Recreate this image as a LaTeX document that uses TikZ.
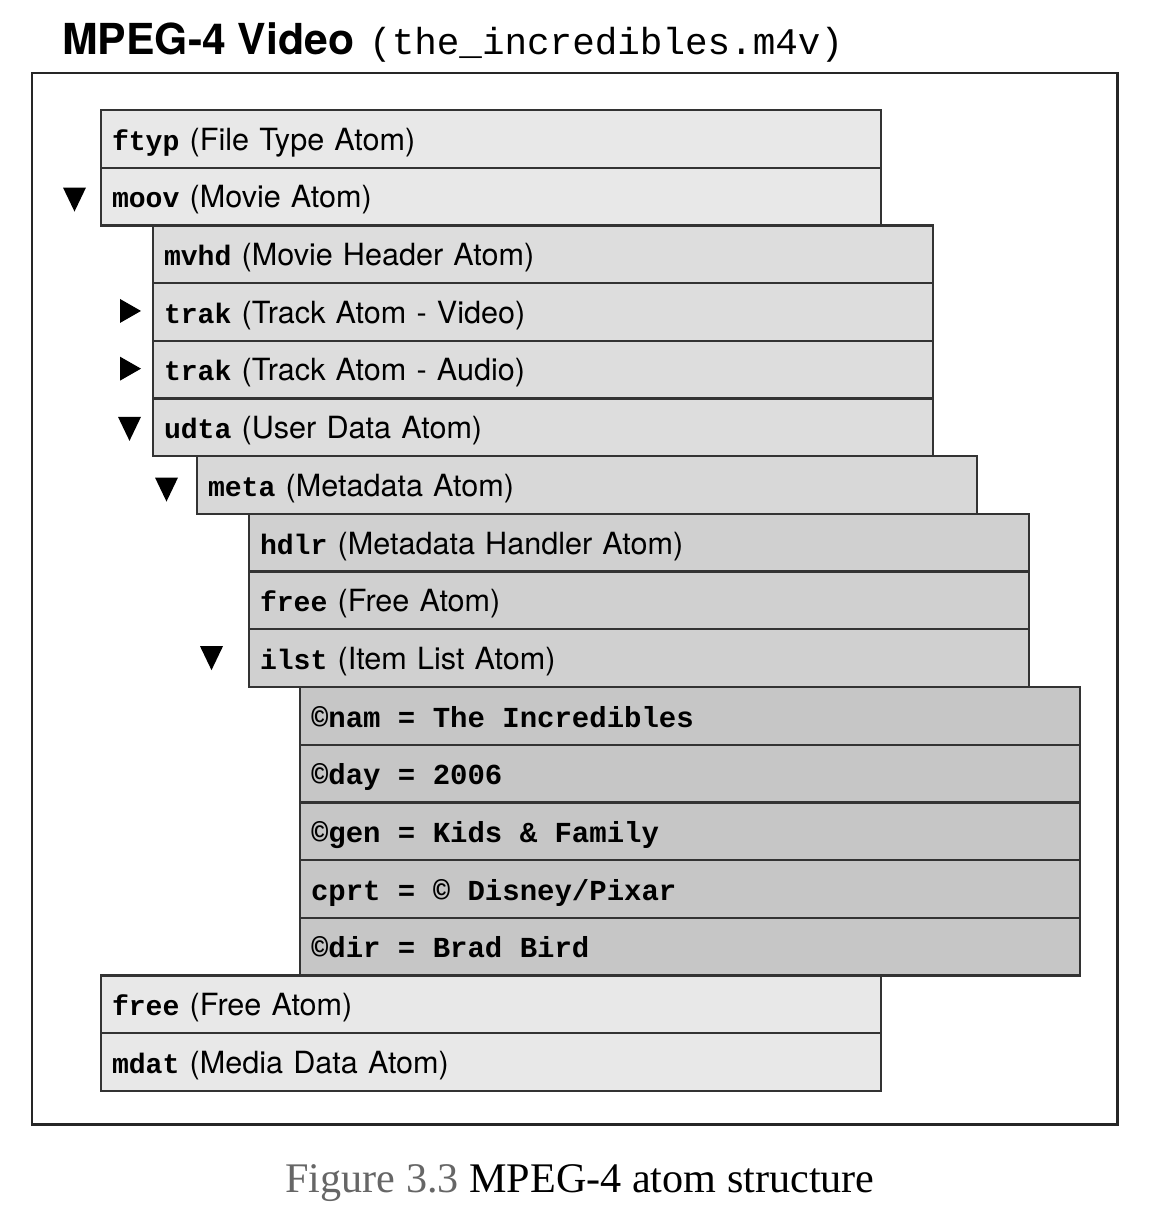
\documentclass[tikz,border=0pt]{standalone}
\usepackage{fontspec}
\setmainfont{Liberation Serif}
\setsansfont{TeX Gyre Heros}
\setmonofont{Liberation Mono}
\usetikzlibrary{calc}

\definecolor{lvlA}{HTML}{E8E8E8}
\definecolor{lvlB}{HTML}{DDDDDD}
\definecolor{lvlC}{HTML}{D8D8D8}
\definecolor{lvlD}{HTML}{D0D0D0}
\definecolor{lvlE}{HTML}{C6C6C6}

\newcommand\atomtag[1]{{\fontsize{16}{20}\selectfont\ttfamily\bfseries #1}}
\newcommand\itemline[1]{\spaceskip=0.6em\relax #1}

\begin{document}
\begin{tikzpicture}[
  atom/.style={draw=black!80, line width=1.3pt, outer sep=0pt, anchor=north west,
    minimum height=1.154cm, text width=15.16cm, inner xsep=0.22cm, inner ysep=0pt,
    align=left, text height=0.55cm, text depth=0.1cm,
    font=\fontsize{17.4}{20}\selectfont\sffamily},
  item/.style={atom, fill=lvlE, font=\fontsize{16.5}{20}\selectfont\ttfamily\bfseries},
  frame/.style={draw=black!85, line width=1.7pt},
  tri/.style={fill=black},
]
\useasboundingbox (0,0) rectangle (23.12,-24.2);

% === TITLE ===
\node[anchor=base west, inner sep=0pt] (title) at (1.24,-1.1)
  {{\fontsize{24.3}{28}\selectfont\sffamily\bfseries MPEG-4 Video}\hspace{0.3cm}{\fontsize{21.4}{26}\selectfont\ttfamily (the\_incredibles.m4v)}};

\draw[frame] (0.64,-1.46) rectangle (22.34,-22.48);

% === ATOM TREE ===
\node[atom, fill=lvlA] (ftyp) at (2.02,-2.2) {\atomtag{ftyp} (File Type Atom)};
\node[atom, fill=lvlA] (moov) at (ftyp.south west) {\atomtag{moov} (Movie Atom)};
\node[atom, fill=lvlB] (mvhd) at ([xshift=1.04cm]moov.south west) {\atomtag{mvhd} (Movie Header Atom)};
\node[atom, fill=lvlB] (trakvid) at (mvhd.south west) {\atomtag{trak} (Track Atom - Video)};
\node[atom, fill=lvlB] (trakaud) at (trakvid.south west) {\atomtag{trak} (Track Atom - Audio)};
\node[atom, fill=lvlB] (udta) at (trakaud.south west) {\atomtag{udta} (User Data Atom)};
\node[atom, fill=lvlC] (meta) at ([xshift=0.88cm]udta.south west) {\atomtag{meta} (Metadata Atom)};
\node[atom, fill=lvlD] (hdlr) at ([xshift=1.04cm]meta.south west) {\atomtag{hdlr} (Metadata Handler Atom)};
\node[atom, fill=lvlD] (metafree) at (hdlr.south west) {\atomtag{free} (Free Atom)};
\node[atom, fill=lvlD] (ilst) at (metafree.south west) {\atomtag{ilst} (Item List Atom)};

% item list entries
\node[item] (nam) at ([xshift=1.02cm]ilst.south west) {\itemline{©nam = The Incredibles}};
\node[item] (day) at (nam.south west) {\itemline{©day = 2006}};
\node[item] (gen) at (day.south west) {\itemline{©gen = Kids \& Family}};
\node[item] (cprt) at (gen.south west) {\itemline{cprt = © Disney/Pixar}};
\node[item] (dir) at (cprt.south west) {\itemline{©dir = Brad Bird}};

\node[atom, fill=lvlA] (free) at (ftyp.west |- dir.south) {\atomtag{free} (Free Atom)};
\node[atom, fill=lvlA] (mdat) at (free.south west) {\atomtag{mdat} (Media Data Atom)};

% disclosure triangles
\fill[tri] ([xshift=-0.53cm,yshift=-0.06cm]moov.west) +(-0.23,0.24) -- +(0.23,0.24) -- +(0,-0.24) -- cycle;
\fill[tri] ([xshift=-0.45cm,yshift=0.02cm]trakvid.west) +(-0.21,0.24) -- +(0.21,0) -- +(-0.21,-0.24) -- cycle;
\fill[tri] ([xshift=-0.45cm,yshift=0.02cm]trakaud.west) +(-0.21,0.24) -- +(0.21,0) -- +(-0.21,-0.24) -- cycle;
\fill[tri] ([xshift=-0.47cm,yshift=-0.03cm]udta.west) +(-0.23,0.24) -- +(0.23,0.24) -- +(0,-0.24) -- cycle;
\fill[tri] ([xshift=-0.61cm,yshift=-0.09cm]meta.west) +(-0.23,0.24) -- +(0.23,0.24) -- +(0,-0.24) -- cycle;
\fill[tri] ([xshift=-0.75cm]ilst.west) +(-0.23,0.24) -- +(0.23,0.24) -- +(0,-0.24) -- cycle;

% === CAPTION ===
\node[anchor=base, inner sep=0pt, font=\fontsize{24}{28}\selectfont] (caption) at (11.6,-23.84)
  {\textcolor{black!60}{Figure 3.3} MPEG-4 atom structure};
\end{tikzpicture}
\end{document}
